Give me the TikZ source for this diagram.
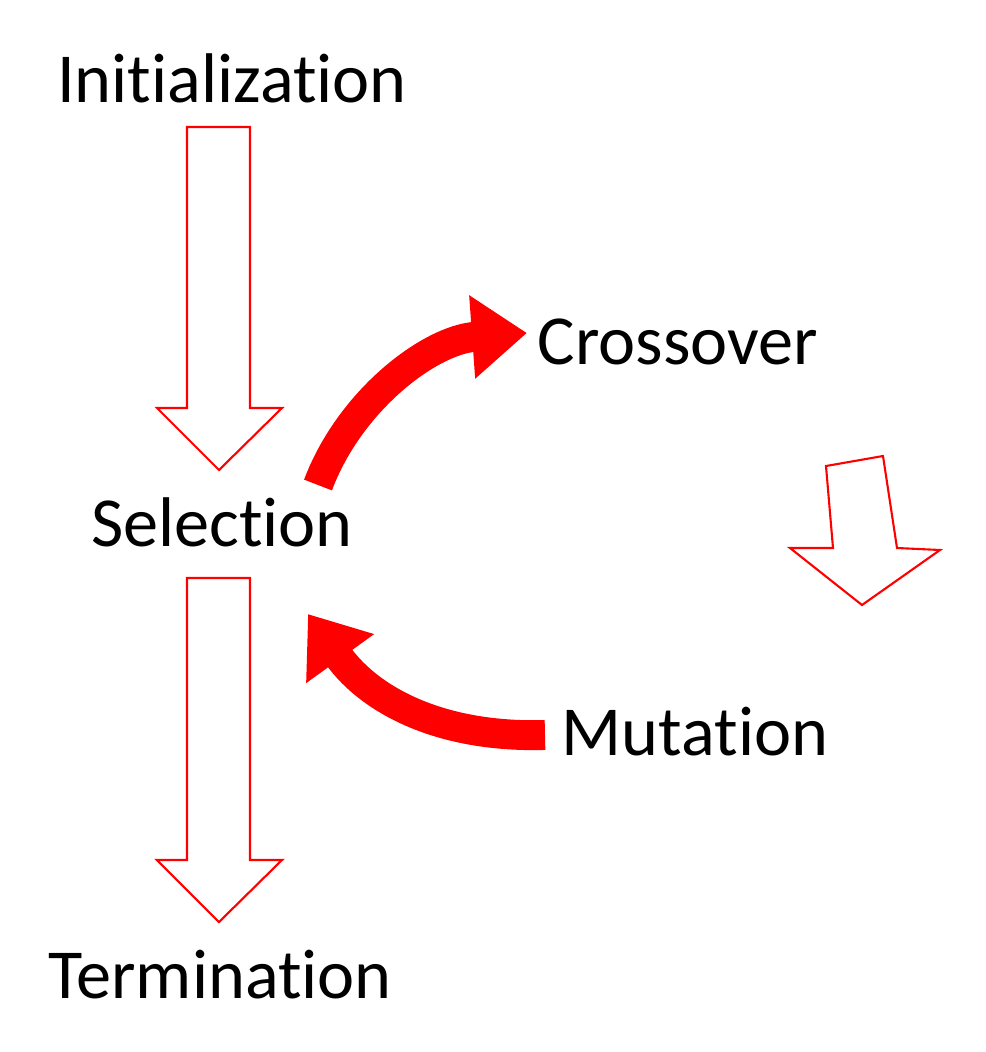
\documentclass[tikz,border=0pt]{standalone}
\usepackage{fontspec}
\setmainfont{Carlito}[Ligatures={NoCommon,NoRare},Contextuals=NoAlternate]
\usetikzlibrary{arrows.meta}
\begin{document}
\begin{tikzpicture}[x=0.02cm,y=-0.02cm,
  lbl/.style={font=\fontsize{40}{46}\selectfont, inner sep=0pt},
  hollow/.style={draw=red, line width=1.2pt, fill=white, line join=miter},
  bold/.style={draw=red, line width=17pt, -{Triangle[length=1.1cm,width=1.6cm]}}]
\useasboundingbox (0,0) rectangle (986,1052);
\node[lbl] (init) at (232,78) {Initialization};
\node[lbl] (sel) at (222,522) {Selection};
\node[lbl] (term) at (220,975) {Termination};
\node[lbl] (cross) at (678,342) {Crossover};
\node[lbl] (mut) at (695,732) {Mutation};
\draw[hollow] (187,127) -- (250,127) -- (250,408) -- (282,408) -- (219,470) -- (157,408) -- (187,408) -- cycle;
\draw[hollow] (187,578) -- (250,578) -- (250,860) -- (282,860) -- (219,922) -- (157,860) -- (187,860) -- cycle;
\draw[hollow] (826,466) -- (883,456) -- (897,548) -- (940,550) -- (862,605) -- (790,548) -- (833,548) -- cycle;
\coordinate (c1) at (318,485);
\coordinate (c2) at (527,333);
\draw[bold] (c1) .. controls (350,400) and (430,340) .. (c2);
\coordinate (m1) at (545,735);
\coordinate (m2) at (308,614);
\draw[bold] (m1) .. controls (440,738) and (370,700) .. (m2);
\end{tikzpicture}
\end{document}
